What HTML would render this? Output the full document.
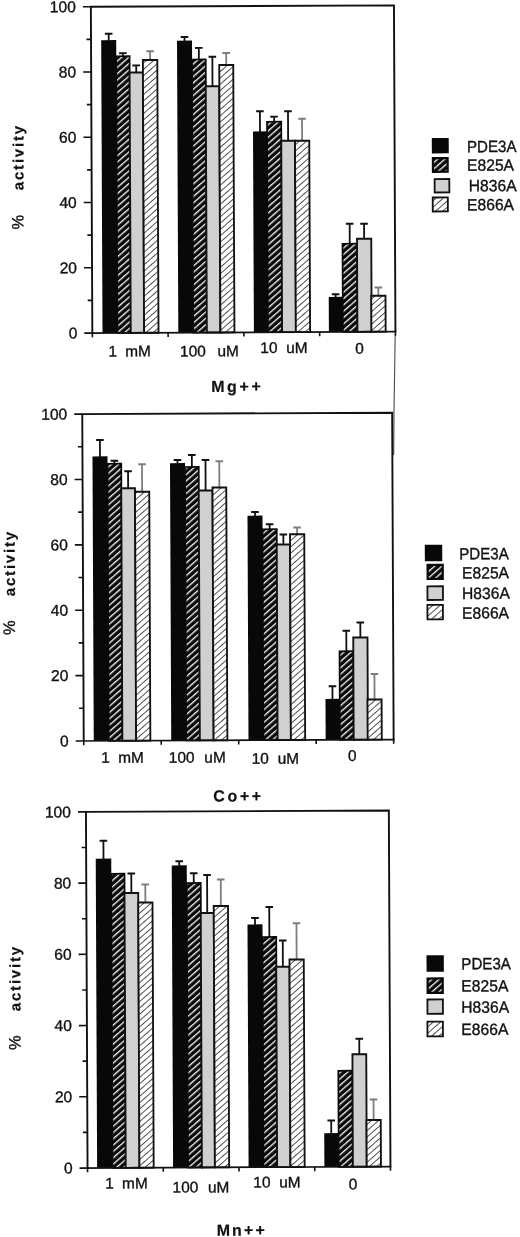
<!DOCTYPE html>
<html><head><meta charset="utf-8"><title>Figure</title>
<style>
html,body{margin:0;padding:0;background:#fff;}
body{width:520px;height:1237px;overflow:hidden;}
svg{display:block;filter:blur(0.35px);}
text{font-family:"Liberation Sans", Arial, Helvetica, sans-serif;fill:#111;}
text.t{stroke:#111;stroke-width:0.35px;}
text.b{stroke:#111;stroke-width:0.2px;}
</style></head><body>
<svg width="520" height="1237" viewBox="0 0 520 1237">
<defs>
<pattern id="h1" patternUnits="userSpaceOnUse" width="4.75" height="4.75" patternTransform="rotate(-41)">
<rect width="4.75" height="4.75" fill="#080808"/><rect y="0" width="4.75" height="1.35" fill="#f2f2f2"/>
</pattern>
<pattern id="h2" patternUnits="userSpaceOnUse" width="4.75" height="4.75" patternTransform="rotate(-41)">
<rect width="4.75" height="4.75" fill="#fff"/><rect y="0" width="4.75" height="0.95" fill="#4a4a4a"/>
</pattern>
</defs>
<rect width="520" height="1237" fill="#fff"/>
<g transform="rotate(-0.2578 260.0 618.0)">
<path d="M396.48 334.61L394.93 412.60L394.43 455.60" stroke="#4a4a4a" stroke-width="1.1" fill="none"/>
<g id="c1">
<path d="M111.30 40.07V33.07M107.50 33.07H115.10" stroke="#111" stroke-width="1.8" fill="none"/>
<rect x="103.80" y="39.47" width="15.00" height="292.81" fill="#080808"/>
<path d="M125.43 55.63V52.63M121.63 52.63H129.23" stroke="#111" stroke-width="1.8" fill="none"/>
<rect x="118.73" y="55.63" width="13.40" height="276.64" fill="url(#h1)" stroke="#080808" stroke-width="1.7"/>
<path d="M138.70 71.94V64.94M134.90 64.94H142.50" stroke="#111" stroke-width="1.8" fill="none"/>
<rect x="132.05" y="71.94" width="13.30" height="260.33" fill="#d0d0d0" stroke="#111" stroke-width="1.85"/>
<path d="M152.61 59.51V50.76M148.81 50.76H156.41" stroke="#7d7d7d" stroke-width="1.8" fill="none"/>
<rect x="145.41" y="59.51" width="14.40" height="272.77" fill="url(#h2)" stroke="#111" stroke-width="1.85"/>
<path d="M187.10 40.91V36.66M183.30 36.66H190.90" stroke="#111" stroke-width="1.8" fill="none"/>
<rect x="179.60" y="40.31" width="15.00" height="291.97" fill="#080808"/>
<path d="M201.39 59.22V47.72M197.59 47.72H205.19" stroke="#111" stroke-width="1.8" fill="none"/>
<rect x="194.51" y="59.22" width="13.75" height="273.05" fill="url(#h1)" stroke="#080808" stroke-width="1.7"/>
<path d="M214.89 86.04V56.54M211.09 56.54H218.69" stroke="#111" stroke-width="1.8" fill="none"/>
<rect x="208.14" y="86.04" width="13.50" height="246.24" fill="#d0d0d0" stroke="#111" stroke-width="1.85"/>
<path d="M228.74 64.85V52.85M224.94 52.85H232.54" stroke="#7d7d7d" stroke-width="1.8" fill="none"/>
<rect x="221.74" y="64.85" width="14.00" height="267.43" fill="url(#h2)" stroke="#111" stroke-width="1.85"/>
<path d="M262.19 132.00V111.25M258.39 111.25H265.99" stroke="#111" stroke-width="1.8" fill="none"/>
<rect x="255.19" y="131.40" width="14.00" height="200.88" fill="#080808"/>
<path d="M276.36 121.81V116.81M272.56 116.81H280.16" stroke="#111" stroke-width="1.8" fill="none"/>
<rect x="269.23" y="121.81" width="14.25" height="210.46" fill="url(#h1)" stroke="#080808" stroke-width="1.7"/>
<path d="M290.27 140.88V111.38M286.47 111.38H294.07" stroke="#111" stroke-width="1.8" fill="none"/>
<rect x="283.40" y="140.88" width="13.75" height="191.40" fill="#d0d0d0" stroke="#111" stroke-width="1.85"/>
<path d="M304.27 140.94V118.94M300.47 118.94H308.07" stroke="#7d7d7d" stroke-width="1.8" fill="none"/>
<rect x="297.15" y="140.94" width="14.25" height="191.34" fill="url(#h2)" stroke="#111" stroke-width="1.85"/>
<path d="M337.07 297.84V294.59M333.27 294.59H340.87" stroke="#111" stroke-width="1.8" fill="none"/>
<rect x="330.19" y="297.24" width="13.75" height="35.04" fill="#080808"/>
<path d="M351.43 244.15V224.15M347.63 224.15H355.23" stroke="#111" stroke-width="1.8" fill="none"/>
<rect x="344.18" y="244.15" width="14.50" height="88.12" fill="url(#h1)" stroke="#080808" stroke-width="1.7"/>
<path d="M365.83 239.22V224.22M362.03 224.22H369.63" stroke="#111" stroke-width="1.8" fill="none"/>
<rect x="358.71" y="239.22" width="14.25" height="93.06" fill="#d0d0d0" stroke="#111" stroke-width="1.85"/>
<path d="M379.83 296.28V288.03M376.03 288.03H383.63" stroke="#7d7d7d" stroke-width="1.8" fill="none"/>
<rect x="372.70" y="296.28" width="14.25" height="35.99" fill="url(#h2)" stroke="#111" stroke-width="1.85"/>
<path d="M93.62 332.28V6.02H396.72V332.28" fill="none" stroke="#111" stroke-width="1.9" stroke-linejoin="miter"/>
<path d="M85.62 332.28H397.67" fill="none" stroke="#111" stroke-width="1.7"/>
<path d="M89.12 299.65H93.62M85.62 267.03H93.62M89.12 234.40H93.62M85.62 201.77H93.62M89.12 169.15H93.62M85.62 136.52H93.62M89.12 103.90H93.62M85.62 71.27H93.62M89.12 38.65H93.62M85.62 6.02H93.62" stroke="#111" stroke-width="1.6" fill="none"/>
<text class="t" x="78.62" y="337.68" text-anchor="end" font-size="15.6">0</text>
<text class="t" x="78.62" y="272.43" text-anchor="end" font-size="15.6">20</text>
<text class="t" x="78.62" y="207.17" text-anchor="end" font-size="15.6">40</text>
<text class="t" x="78.62" y="141.92" text-anchor="end" font-size="15.6">60</text>
<text class="t" x="78.62" y="76.67" text-anchor="end" font-size="15.6">80</text>
<text class="t" x="78.62" y="11.42" text-anchor="end" font-size="15.6">100</text>
<path d="M93.62 332.28v4.2M169.39 332.28v4.2M245.17 332.28v4.2M320.95 332.28v4.2M396.72 332.28v4.2" stroke="#111" stroke-width="1.6" fill="none"/>
<text class="t" x="130.88" y="355.81" text-anchor="middle" font-size="15.4" word-spacing="4">1 mM</text>
<text class="t" x="210.68" y="356.17" text-anchor="middle" font-size="15.4" word-spacing="7.5">100 uM</text>
<text class="t" x="285.19" y="353.11" text-anchor="middle" font-size="15.4" word-spacing="4.5">10 uM</text>
<text class="t" x="360.69" y="354.25" text-anchor="middle" font-size="15.4" word-spacing="0">0</text>
<text class="b" x="238.32" y="391.80" text-anchor="middle" font-size="16" font-weight="bold" letter-spacing="2.6">Mg++</text>
<text class="b" transform="translate(25.53 189.14) rotate(-90)" font-size="15" font-weight="bold" letter-spacing="1.8">activity</text>
<text class="t" transform="translate(25.35 228.54) rotate(-90)" font-size="16.5">%</text>
<rect x="433.96" y="138.77" width="16.90" height="15.40" fill="#080808"/>
<text class="t" transform="translate(469.10 153.13) scale(0.928 1)" font-size="16.3">PDE3A</text>
<rect x="434.97" y="158.87" width="14.70" height="13.70" fill="url(#h1)" stroke="#080808" stroke-width="2.2"/>
<text class="t" transform="translate(469.01 171.73) scale(0.962 1)" font-size="16.3">E825A</text>
<rect x="436.58" y="179.88" width="14.70" height="13.40" fill="#d0d0d0" stroke="#111" stroke-width="1.8"/>
<text class="t" transform="translate(470.62 192.24) scale(0.962 1)" font-size="16.3">H836A</text>
<rect x="434.60" y="198.27" width="15.10" height="14.00" fill="url(#h2)" stroke="#111" stroke-width="1.8"/>
<text class="t" transform="translate(468.83 211.33) scale(0.962 1)" font-size="16.3">E866A</text>
</g>
<g id="c2">
<path d="M100.72 456.28V439.28M96.92 439.28H104.52" stroke="#111" stroke-width="1.8" fill="none"/>
<rect x="93.22" y="455.68" width="15.00" height="284.47" fill="#080808"/>
<path d="M115.07 463.09V460.09M111.27 460.09H118.87" stroke="#111" stroke-width="1.8" fill="none"/>
<rect x="108.19" y="463.09" width="13.75" height="277.06" fill="url(#h1)" stroke="#080808" stroke-width="1.7"/>
<path d="M128.71 487.66V470.66M124.91 470.66H132.51" stroke="#111" stroke-width="1.8" fill="none"/>
<rect x="121.83" y="487.66" width="13.75" height="252.50" fill="#d0d0d0" stroke="#111" stroke-width="1.85"/>
<path d="M142.69 491.22V463.72M138.89 463.72H146.49" stroke="#7d7d7d" stroke-width="1.8" fill="none"/>
<rect x="135.57" y="491.22" width="14.25" height="248.93" fill="url(#h2)" stroke="#111" stroke-width="1.85"/>
<path d="M178.19 463.38V459.63M174.39 459.63H181.99" stroke="#111" stroke-width="1.8" fill="none"/>
<rect x="170.69" y="462.78" width="15.00" height="277.37" fill="#080808"/>
<path d="M192.55 466.69V454.69M188.75 454.69H196.35" stroke="#111" stroke-width="1.8" fill="none"/>
<rect x="185.68" y="466.69" width="13.75" height="273.46" fill="url(#h1)" stroke="#080808" stroke-width="1.7"/>
<path d="M206.20 490.26V459.76M202.40 459.76H210.00" stroke="#111" stroke-width="1.8" fill="none"/>
<rect x="199.32" y="490.26" width="13.75" height="249.90" fill="#d0d0d0" stroke="#111" stroke-width="1.85"/>
<path d="M219.96 487.32V461.07M216.16 461.07H223.76" stroke="#7d7d7d" stroke-width="1.8" fill="none"/>
<rect x="213.09" y="487.32" width="13.75" height="252.84" fill="url(#h2)" stroke="#111" stroke-width="1.85"/>
<path d="M255.46 516.23V511.98M251.66 511.98H259.26" stroke="#111" stroke-width="1.8" fill="none"/>
<rect x="247.96" y="515.63" width="15.00" height="224.53" fill="#080808"/>
<path d="M270.02 529.29V524.29M266.22 524.29H273.82" stroke="#111" stroke-width="1.8" fill="none"/>
<rect x="262.90" y="529.29" width="14.25" height="210.86" fill="url(#h1)" stroke="#080808" stroke-width="1.7"/>
<path d="M283.71 544.61V534.61M279.91 534.61H287.51" stroke="#111" stroke-width="1.8" fill="none"/>
<rect x="277.08" y="544.61" width="13.25" height="195.55" fill="#d0d0d0" stroke="#111" stroke-width="1.85"/>
<path d="M297.50 534.42V527.67M293.70 527.67H301.30" stroke="#7d7d7d" stroke-width="1.8" fill="none"/>
<rect x="290.38" y="534.42" width="14.25" height="205.74" fill="url(#h2)" stroke="#111" stroke-width="1.85"/>
<path d="M332.13 699.83V686.58M328.33 686.58H335.93" stroke="#111" stroke-width="1.8" fill="none"/>
<rect x="325.13" y="699.23" width="14.00" height="40.93" fill="#080808"/>
<path d="M346.23 651.64V631.14M342.43 631.14H350.03" stroke="#111" stroke-width="1.8" fill="none"/>
<rect x="339.35" y="651.64" width="13.75" height="88.51" fill="url(#h1)" stroke="#080808" stroke-width="1.7"/>
<path d="M360.29 637.95V622.95M356.49 622.95H364.09" stroke="#111" stroke-width="1.8" fill="none"/>
<rect x="353.16" y="637.95" width="14.25" height="102.20" fill="#d0d0d0" stroke="#111" stroke-width="1.85"/>
<path d="M374.18 700.02V674.52M370.38 674.52H377.98" stroke="#7d7d7d" stroke-width="1.8" fill="none"/>
<rect x="367.13" y="700.02" width="14.10" height="40.14" fill="url(#h2)" stroke="#111" stroke-width="1.85"/>
<path d="M83.18 740.15V413.30H393.09V740.15" fill="none" stroke="#111" stroke-width="1.9" stroke-linejoin="miter"/>
<path d="M75.18 740.15H394.04" fill="none" stroke="#111" stroke-width="1.7"/>
<path d="M78.68 707.47H83.18M75.18 674.78H83.18M78.68 642.10H83.18M75.18 609.41H83.18M78.68 576.73H83.18M75.18 544.04H83.18M78.68 511.35H83.18M75.18 478.67H83.18M78.68 445.98H83.18M75.18 413.30H83.18" stroke="#111" stroke-width="1.6" fill="none"/>
<text class="t" x="68.18" y="745.55" text-anchor="end" font-size="15.6">0</text>
<text class="t" x="68.18" y="680.18" text-anchor="end" font-size="15.6">20</text>
<text class="t" x="68.18" y="614.81" text-anchor="end" font-size="15.6">40</text>
<text class="t" x="68.18" y="549.44" text-anchor="end" font-size="15.6">60</text>
<text class="t" x="68.18" y="484.07" text-anchor="end" font-size="15.6">80</text>
<text class="t" x="68.18" y="418.70" text-anchor="end" font-size="15.6">100</text>
<path d="M83.18 740.15v4.2M160.66 740.15v4.2M238.14 740.15v4.2M315.61 740.15v4.2M393.09 740.15v4.2" stroke="#111" stroke-width="1.6" fill="none"/>
<text class="t" x="121.95" y="762.08" text-anchor="middle" font-size="15.4" word-spacing="4">1 mM</text>
<text class="t" x="196.65" y="762.42" text-anchor="middle" font-size="15.4" word-spacing="5.5">100 uM</text>
<text class="t" x="274.74" y="763.77" text-anchor="middle" font-size="15.4" word-spacing="4.5">10 uM</text>
<text class="t" x="351.76" y="761.42" text-anchor="middle" font-size="15.4" word-spacing="0">0</text>
<text class="b" x="237.77" y="801.40" text-anchor="middle" font-size="16" font-weight="bold" letter-spacing="2.6">Co++</text>
<text class="b" transform="translate(15.10 595.10) rotate(-90)" font-size="15" font-weight="bold" letter-spacing="1.8">activity</text>
<text class="t" transform="translate(14.92 633.90) rotate(-90)" font-size="16.5">%</text>
<rect x="425.13" y="545.54" width="17.40" height="16.50" fill="#080808"/>
<text class="t" transform="translate(459.46 560.30) scale(0.928 1)" font-size="16.3">PDE3A</text>
<rect x="427.84" y="565.65" width="15.10" height="14.10" fill="url(#h1)" stroke="#080808" stroke-width="2.2"/>
<text class="t" transform="translate(462.18 579.41) scale(0.962 1)" font-size="16.3">E825A</text>
<rect x="427.55" y="587.05" width="15.50" height="13.70" fill="#d0d0d0" stroke="#111" stroke-width="1.8"/>
<text class="t" transform="translate(462.08 599.91) scale(0.962 1)" font-size="16.3">H836A</text>
<rect x="427.46" y="605.65" width="15.50" height="14.50" fill="url(#h2)" stroke="#111" stroke-width="1.8"/>
<text class="t" transform="translate(462.00 619.61) scale(0.962 1)" font-size="16.3">E866A</text>
</g>
<g id="c3">
<path d="M102.41 858.55V840.05M98.61 840.05H106.21" stroke="#111" stroke-width="1.8" fill="none"/>
<rect x="94.66" y="857.95" width="15.50" height="309.26" fill="#080808"/>
<rect x="110.10" y="873.11" width="13.25" height="294.10" fill="url(#h1)" stroke="#080808" stroke-width="1.7"/>
<path d="M130.14 892.42V872.92M126.34 872.92H133.94" stroke="#111" stroke-width="1.8" fill="none"/>
<rect x="123.26" y="892.42" width="13.75" height="274.78" fill="#d0d0d0" stroke="#111" stroke-width="1.85"/>
<path d="M144.09 901.98V883.98M140.29 883.98H147.89" stroke="#7d7d7d" stroke-width="1.8" fill="none"/>
<rect x="136.97" y="901.98" width="14.25" height="265.22" fill="url(#h2)" stroke="#111" stroke-width="1.85"/>
<path d="M178.13 865.64V860.89M174.33 860.89H181.93" stroke="#111" stroke-width="1.8" fill="none"/>
<rect x="170.63" y="865.04" width="15.00" height="302.17" fill="#080808"/>
<path d="M192.56 882.70V872.95M188.76 872.95H196.36" stroke="#111" stroke-width="1.8" fill="none"/>
<rect x="185.56" y="882.70" width="14.00" height="284.50" fill="url(#h1)" stroke="#080808" stroke-width="1.7"/>
<path d="M205.92 912.76V874.76M202.12 874.76H209.72" stroke="#111" stroke-width="1.8" fill="none"/>
<rect x="199.42" y="912.76" width="13.00" height="254.44" fill="#d0d0d0" stroke="#111" stroke-width="1.85"/>
<path d="M219.58 905.82V879.32M215.78 879.32H223.38" stroke="#7d7d7d" stroke-width="1.8" fill="none"/>
<rect x="212.45" y="905.82" width="14.25" height="261.38" fill="url(#h2)" stroke="#111" stroke-width="1.85"/>
<path d="M253.62 924.98V917.98M249.82 917.98H257.42" stroke="#111" stroke-width="1.8" fill="none"/>
<rect x="246.12" y="924.38" width="15.00" height="242.83" fill="#080808"/>
<path d="M267.94 937.04V907.04M264.14 907.04H271.74" stroke="#111" stroke-width="1.8" fill="none"/>
<rect x="261.06" y="937.04" width="13.75" height="230.16" fill="url(#h1)" stroke="#080808" stroke-width="1.7"/>
<path d="M281.31 966.85V940.60M277.51 940.60H285.11" stroke="#111" stroke-width="1.8" fill="none"/>
<rect x="274.68" y="966.85" width="13.25" height="200.35" fill="#d0d0d0" stroke="#111" stroke-width="1.85"/>
<path d="M295.09 959.66V923.41M291.29 923.41H298.89" stroke="#7d7d7d" stroke-width="1.8" fill="none"/>
<rect x="287.96" y="959.66" width="14.25" height="207.54" fill="url(#h2)" stroke="#111" stroke-width="1.85"/>
<path d="M328.95 1134.07V1120.82M325.15 1120.82H332.75" stroke="#111" stroke-width="1.8" fill="none"/>
<rect x="321.93" y="1133.47" width="14.05" height="33.74" fill="#080808"/>
<rect x="336.26" y="1071.13" width="14.10" height="96.07" fill="url(#h1)" stroke="#080808" stroke-width="1.7"/>
<path d="M357.36 1054.70V1039.20M353.56 1039.20H361.16" stroke="#111" stroke-width="1.8" fill="none"/>
<rect x="350.44" y="1054.70" width="13.85" height="112.51" fill="#d0d0d0" stroke="#111" stroke-width="1.85"/>
<path d="M371.37 1120.51V1100.01M367.57 1100.01H375.17" stroke="#7d7d7d" stroke-width="1.8" fill="none"/>
<rect x="364.24" y="1120.51" width="14.25" height="46.69" fill="url(#h2)" stroke="#111" stroke-width="1.85"/>
<path d="M85.08 1167.21V811.10H387.98V1167.21" fill="none" stroke="#111" stroke-width="1.9" stroke-linejoin="miter"/>
<path d="M77.08 1167.21H388.93" fill="none" stroke="#111" stroke-width="1.7"/>
<path d="M80.58 1131.60H85.08M77.08 1095.98H85.08M80.58 1060.37H85.08M77.08 1024.76H85.08M80.58 989.15H85.08M77.08 953.54H85.08M80.58 917.93H85.08M77.08 882.32H85.08M80.58 846.71H85.08M77.08 811.10H85.08" stroke="#111" stroke-width="1.6" fill="none"/>
<text class="t" x="70.08" y="1172.61" text-anchor="end" font-size="15.6">0</text>
<text class="t" x="70.08" y="1101.38" text-anchor="end" font-size="15.6">20</text>
<text class="t" x="70.08" y="1030.16" text-anchor="end" font-size="15.6">40</text>
<text class="t" x="70.08" y="958.94" text-anchor="end" font-size="15.6">60</text>
<text class="t" x="70.08" y="887.72" text-anchor="end" font-size="15.6">80</text>
<text class="t" x="70.08" y="816.50" text-anchor="end" font-size="15.6">100</text>
<path d="M85.08 1167.21v4.2M160.80 1167.21v4.2M236.53 1167.21v4.2M312.26 1167.21v4.2M387.98 1167.21v4.2" stroke="#111" stroke-width="1.6" fill="none"/>
<text class="t" x="123.93" y="1187.90" text-anchor="middle" font-size="15.4" word-spacing="4">1 mM</text>
<text class="t" x="198.41" y="1192.23" text-anchor="middle" font-size="15.4" word-spacing="5.5">100 uM</text>
<text class="t" x="274.44" y="1187.58" text-anchor="middle" font-size="15.4" word-spacing="4.5">10 uM</text>
<text class="t" x="350.43" y="1189.92" text-anchor="middle" font-size="15.4" word-spacing="0">0</text>
<text class="b" x="239.02" y="1235.52" text-anchor="middle" font-size="16" font-weight="bold" letter-spacing="2.1">Mn++</text>
<text class="b" transform="translate(18.73 1010.12) rotate(-90)" font-size="15" font-weight="bold" letter-spacing="1.8">activity</text>
<text class="t" transform="translate(18.56 1048.92) rotate(-90)" font-size="16.5">%</text>
<rect x="424.98" y="955.95" width="17.30" height="16.50" fill="#080808"/>
<text class="t" transform="translate(459.72 970.31) scale(0.928 1)" font-size="16.3">PDE3A</text>
<rect x="425.98" y="979.25" width="15.10" height="14.40" fill="url(#h1)" stroke="#080808" stroke-width="2.2"/>
<text class="t" transform="translate(459.62 992.51) scale(0.962 1)" font-size="16.3">E825A</text>
<rect x="425.69" y="1000.25" width="15.50" height="14.30" fill="#d0d0d0" stroke="#111" stroke-width="1.8"/>
<text class="t" transform="translate(459.52 1013.71) scale(0.962 1)" font-size="16.3">H836A</text>
<rect x="425.59" y="1022.45" width="15.50" height="14.70" fill="url(#h2)" stroke="#111" stroke-width="1.8"/>
<text class="t" transform="translate(459.42 1035.91) scale(0.962 1)" font-size="16.3">E866A</text>
</g>
</g>
</svg>
</body></html>
